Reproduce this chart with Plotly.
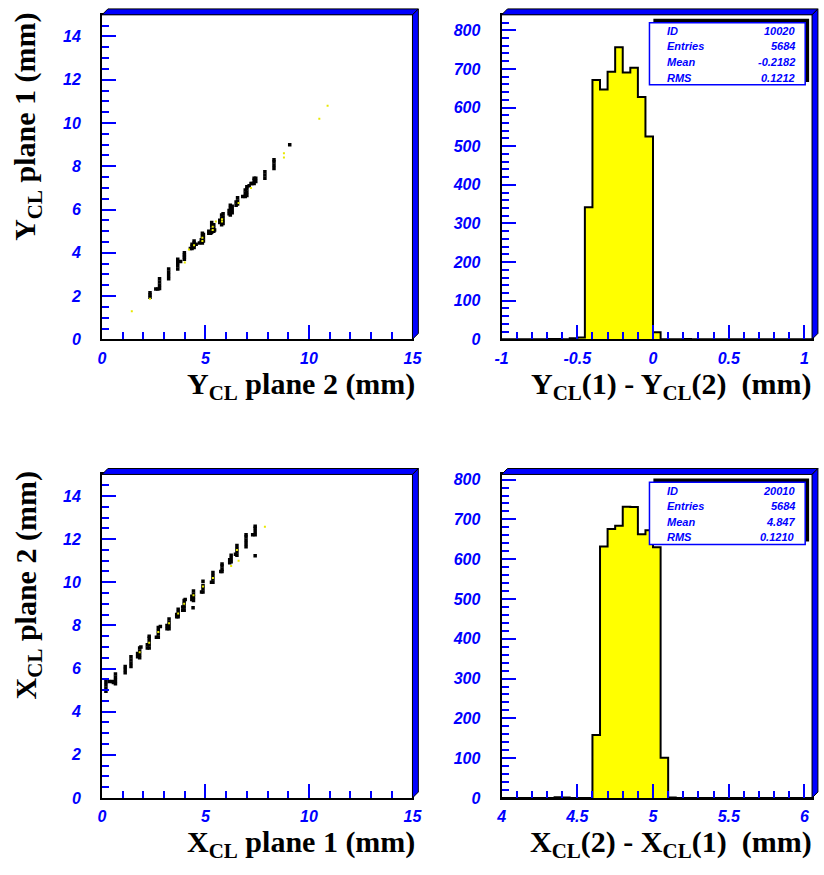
import plotly.graph_objects as go

W, H = 824, 875

# ---------------- data ----------------
# Y cluster position, plane 2 (x) vs plane 1 (y), mm
ycl_p2 = [2.32, 2.32, 2.32,
          2.6, 2.7, 2.78, 2.78, 2.78, 2.78,
          3.22, 3.22, 3.22, 3.22,
          3.66, 3.66, 3.66, 3.66, 3.8,
          3.98, 3.98, 3.98, 3.98,
          4.27, 4.35, 4.35, 4.35, 4.45, 4.45, 4.45, 4.45, 4.55,
          4.71, 4.8, 4.8, 4.85, 4.85, 4.85, 4.85, 4.9, 4.9, 4.9,
          5.16, 5.16, 5.25, 5.3, 5.3, 5.3, 5.3, 5.4, 5.4, 5.4, 5.44,
          5.69, 5.69, 5.78, 5.78, 5.78, 5.78, 5.85, 5.85, 5.85, 5.85,
          6.14, 6.14, 6.2, 6.2, 6.2, 6.2, 6.29, 6.29, 6.29,
          6.48, 6.48, 6.55, 6.55, 6.55,
          6.8, 6.92, 6.92, 6.92, 7.0, 7.0, 7.0, 7.0,
          7.11, 7.2, 7.25, 7.35, 7.35, 7.35, 7.43, 7.43,
          7.87, 7.87, 7.87,
          8.31, 8.31, 8.31, 8.31,
          9.07]
ycl_p1 = [1.95, 2.05, 2.15,
          2.33, 2.33, 2.35, 2.5, 2.65, 2.8,
          2.8, 2.95, 3.1, 3.25,
          3.25, 3.4, 3.55, 3.7, 3.6,
          3.7, 3.8, 3.9, 4.0,
          4.2, 4.2, 4.3, 4.4, 4.25, 4.35, 4.45, 4.55, 4.4,
          4.45, 4.5, 4.6, 4.45, 4.6, 4.75, 4.9, 4.55, 4.7, 4.85,
          4.9, 5.0, 4.9, 4.95, 5.1, 5.25, 5.4, 5.0, 5.15, 5.3, 5.05,
          5.4, 5.5, 5.3, 5.45, 5.6, 5.75, 5.35, 5.5, 5.65, 5.8,
          5.8, 5.95, 5.75, 5.9, 6.05, 6.2, 5.85, 6.0, 6.15,
          6.2, 6.35, 6.25, 6.4, 6.55,
          6.6, 6.6, 6.75, 6.9, 6.65, 6.8, 6.95, 7.05,
          7.1, 7.2, 7.2, 7.2, 7.35, 7.45, 7.3, 7.45,
          7.45, 7.6, 7.75,
          7.9, 8.05, 8.2, 8.3,
          9.0]
# sparse low-weight entries (yellow)
ycl_p2_low = [1.44, 2.32, 4.2, 4.45, 4.85, 4.85, 5.35, 5.35, 5.5, 5.8, 5.8, 4.0, 6.6, 7.2, 8.79, 8.79, 10.5, 10.9]
ycl_p1_low = [1.3, 1.88, 4.15, 4.35, 4.7, 4.55, 5.2, 5.05, 5.45, 5.55, 5.45, 3.55, 6.3, 7.0, 8.4, 8.6, 10.2, 10.8]

# X cluster position, plane 1 (x) vs plane 2 (y), mm
xcl_p1 = [0.19, 0.19, 0.19, 0.19, 0.35, 0.5,
          0.55, 0.65, 0.65, 0.65, 0.65,
          1.12, 1.12, 1.12,
          1.4, 1.4, 1.4, 1.4,
          1.72, 1.72, 1.82, 1.82, 1.82, 1.82, 1.88,
          2.19, 2.19, 2.28, 2.28, 2.28, 2.28, 2.28,
          2.63, 2.72, 2.72, 2.72, 2.72, 2.82,
          3.14, 3.14, 3.24, 3.24, 3.24, 3.24,
          3.61, 3.61, 3.68, 3.68, 3.68, 3.68,
          3.9, 3.9, 3.97, 3.97, 3.97, 3.97, 4.02, 4.4,
          4.34, 4.34, 4.42, 4.42, 4.42, 4.42,
          4.81, 4.88, 4.88, 4.88, 4.88,
          5.29, 5.36, 5.36, 5.36, 5.36,
          5.74, 5.8, 5.8, 5.8, 5.8,
          6.17, 6.17, 6.24, 6.24, 6.24,
          6.45, 6.52, 6.52, 6.52, 6.52,
          6.96, 6.96, 6.96, 6.96, 6.96,
          7.28, 7.4, 7.4, 7.4, 7.4, 7.4]
xcl_p2 = [4.95, 5.1, 5.25, 5.4, 5.4, 5.4,
          5.35, 5.3, 5.45, 5.6, 5.75,
          5.8, 5.95, 6.1,
          6.1, 6.25, 6.4, 6.55,
          6.55, 6.7, 6.5, 6.65, 6.8, 6.95, 7.0,
          6.95, 7.1, 6.95, 7.1, 7.25, 7.4, 7.5,
          7.45, 7.45, 7.6, 7.75, 7.9, 7.95,
          7.85, 8.0, 7.85, 8.0, 8.15, 8.3,
          8.4, 8.5, 8.4, 8.5, 8.6, 8.75,
          8.7, 8.85, 8.7, 8.85, 9.0, 9.15, 9.2, 8.82,
          9.2, 9.35, 9.15, 9.3, 9.45, 9.6,
          9.55, 9.55, 9.7, 9.85, 10.05,
          10.0, 10.0, 10.15, 10.3, 10.45,
          10.5, 10.5, 10.6, 10.75, 10.85,
          10.9, 11.05, 10.95, 11.1, 11.25,
          11.3, 11.25, 11.4, 11.55, 11.7,
          11.65, 11.8, 11.95, 12.1, 12.2,
          12.2, 12.2, 12.35, 12.5, 12.6, 11.23]
xcl_p1_low = [1.82, 2.28, 2.72, 3.24, 3.68, 3.97, 4.42, 4.88, 5.36, 6.24, 6.52, 6.6, 7.87]
xcl_p2_low = [6.75, 7.2, 7.7, 8.1, 8.55, 9.0, 9.4, 9.8, 10.2, 10.75, 11.5, 11.0, 12.58]

# Y residual histogram: Y_CL(1) - Y_CL(2), 41 bins of 0.05 mm from -1.0
dy_lo, dy_width = -1.0, 0.05
dy_counts = [0, 0, 0, 0, 0, 0, 1, 1, 0, 3, 5, 342, 671, 647, 693, 756, 691, 703, 627, 525,
             18, 0, 0, 0, 1, 0, 0, 0, 0, 0, 0, 0, 0, 0, 0, 0, 0, 0, 0, 0, 0]
dy_stats = [("ID", "10020"), ("Entries", "5684"), ("Mean", "-0.2182"), ("RMS", "0.1212")]

# X residual histogram: X_CL(2) - X_CL(1), 41 bins of 0.05 mm from 4.0
dx_lo, dx_width = 4.0, 0.05
dx_counts = [0, 0, 0, 0, 0, 0, 0, 2, 1, 0, 0, 0, 158, 632, 676, 684, 732, 731, 663, 673,
             630, 101, 1, 0, 0, 0, 0, 0, 0, 0, 0, 0, 0, 0, 0, 0, 0, 0, 0, 0, 0]
dx_stats = [("ID", "20010"), ("Entries", "5684"), ("Mean", "4.847"), ("RMS", "0.1210")]

# tick labels
pos_ticks = [0, 2, 4, 6, 8, 10, 12, 14]
pos_xticks = [0, 5, 10, 15]
count_ticks = [0, 100, 200, 300, 400, 500, 600, 700, 800]
dy_ticks = [-1, -0.5, 0, 0.5, 1]
dy_ticklabels = ["-1", "-0.5", "0", "0.5", "1"]
dx_ticks = [4, 4.5, 5, 5.5, 6]
dx_ticklabels = ["4", "4.5", "5", "5.5", "6"]

# ---------------- layout helpers ----------------
def px(x):
    return x / W

def py(y):
    return 1 - y / H

# panel frames in pixels: (left, top, right, bottom)
PANELS = {
    "tl": (97, 12, 414, 341),
    "tr": (505, 12, 822, 341),
    "bl": (97, 478, 414, 806),
    "br": (505, 478, 822, 806),
}

BLUE = "#0000ff"
tick_font = dict(family="Liberation Sans", size=16, color=BLUE)
title_font = dict(family="Liberation Serif", size=30, color="black")
stat_font = dict(family="Liberation Sans", size=11, color=BLUE)


def bi(s):
    return f"<b><i>{s}</i></b>"


def step_outline(lo, width, counts):
    xs = [lo]
    ys = [0]
    for i, c in enumerate(counts):
        xs.append(lo + i * width)
        ys.append(c)
    xs.append(lo + len(counts) * width)
    ys.append(0)
    return xs, ys


fig = go.Figure()

# scatter panels
fig.add_trace(go.Scatter(x=ycl_p2, y=ycl_p1, mode="markers", xaxis="x", yaxis="y",
                         marker=dict(symbol="square", size=3.5, color="black", line=dict(width=0))))
fig.add_trace(go.Scatter(x=ycl_p2_low, y=ycl_p1_low, mode="markers", xaxis="x", yaxis="y",
                         marker=dict(symbol="square", size=2, color="#e8e800", line=dict(width=0))))
fig.add_trace(go.Scatter(x=xcl_p1, y=xcl_p2, mode="markers", xaxis="x3", yaxis="y3",
                         marker=dict(symbol="square", size=3.5, color="black", line=dict(width=0))))
fig.add_trace(go.Scatter(x=xcl_p1_low, y=xcl_p2_low, mode="markers", xaxis="x3", yaxis="y3",
                         marker=dict(symbol="square", size=2, color="#e8e800", line=dict(width=0))))

# histograms drawn as filled step outlines
hx, hy = step_outline(dy_lo, dy_width, dy_counts)
fig.add_trace(go.Scatter(x=hx, y=hy, mode="lines", line=dict(shape="hv", color="black", width=2),
                         fill="tozeroy", fillcolor="#ffff00", xaxis="x2", yaxis="y2"))
hx, hy = step_outline(dx_lo, dx_width, dx_counts)
fig.add_trace(go.Scatter(x=hx, y=hy, mode="lines", line=dict(shape="hv", color="black", width=2),
                         fill="tozeroy", fillcolor="#ffff00", xaxis="x4", yaxis="y4"))


def axis(domain, rng, vals, labels, minor, standoff, **kw):
    d = dict(domain=domain, range=rng, tickmode="array", tickvals=vals,
             ticktext=[bi(t) for t in labels],
             showline=True, linecolor="black", linewidth=2,
             mirror=True, ticks="inside", ticklen=14, tickwidth=1.5, tickcolor=BLUE,
             tickfont=tick_font, showgrid=False, zeroline=False, ticklabelstandoff=standoff,
             minor=dict(dtick=minor, tick0=rng[0], ticks="inside", ticklen=7, tickwidth=1.5,
                        tickcolor=BLUE, showgrid=False),
             fixedrange=True)
    d.update(kw)
    return d


def xdom(k):
    l, t, r, b = PANELS[k]
    return [px(l), px(r)]


def ydom(k):
    l, t, r, b = PANELS[k]
    return [py(b), py(t)]


layout = dict(
    width=W, height=H, margin=dict(l=0, r=0, t=0, b=0), showlegend=False,
    paper_bgcolor="white", plot_bgcolor="white",
    xaxis=axis(xdom("tl"), [0, 15], pos_xticks, [str(v) for v in pos_xticks], 1, 3, anchor="y"),
    yaxis=axis(ydom("tl"), [0, 15], pos_ticks, [str(v) for v in pos_ticks], 0.5, 16, anchor="x"),
    xaxis2=axis(xdom("tr"), [-1, 1.05], dy_ticks, dy_ticklabels, 0.1, 3, anchor="y2"),
    yaxis2=axis(ydom("tr"), [0, 840], count_ticks, [str(v) for v in count_ticks], 20, 16, anchor="x2"),
    xaxis3=axis(xdom("bl"), [0, 15], pos_xticks, [str(v) for v in pos_xticks], 1, 3, anchor="y3"),
    yaxis3=axis(ydom("bl"), [0, 15], pos_ticks, [str(v) for v in pos_ticks], 0.5, 16, anchor="x3"),
    xaxis4=axis(xdom("br"), [4, 6.05], dx_ticks, dx_ticklabels, 0.1, 3, anchor="y4"),
    yaxis4=axis(ydom("br"), [0, 813], count_ticks, [str(v) for v in count_ticks], 20, 16, anchor="x4"),
)
fig.update_layout(**layout)

shapes = []
annotations = []

# 3D-style blue bevel on top and right of every frame
for k, (l, t, r, b) in PANELS.items():
    d = 6
    top = f"M {px(l)} {py(t)} L {px(l + d)} {py(t - d)} L {px(r + d)} {py(t - d)} L {px(r)} {py(t)} Z"
    right = f"M {px(r)} {py(t)} L {px(r + d)} {py(t - d)} L {px(r + d)} {py(b - d)} L {px(r)} {py(b)} Z"
    for p in (top, right):
        shapes.append(dict(type="path", path=p, xref="paper", yref="paper",
                           fillcolor=BLUE, line=dict(color="black", width=1), layer="above"))

# statistics boxes
for k, stats in (("tr", dy_stats), ("br", dx_stats)):
    l, t, r, b = PANELS[k]
    bx0, by0, bx1, by1 = 656, t + 8, 815, t + 71
    shapes.append(dict(type="rect", xref="paper", yref="paper",
                       x0=px(bx0 + 4), x1=px(bx1 + 4), y0=py(by1 - 3), y1=py(by0 - 4),
                       fillcolor="black", line=dict(width=0), layer="above"))
    shapes.append(dict(type="rect", xref="paper", yref="paper",
                       x0=px(bx0), x1=px(bx1), y0=py(by1), y1=py(by0),
                       fillcolor="white", line=dict(color=BLUE, width=1.5), layer="above"))
    for i, (name, val) in enumerate(stats):
        yy = by0 + 8.3 + i * 15.8
        annotations.append(dict(text=bi(name), x=px(672), y=py(yy), xref="paper", yref="paper",
                                xanchor="left", yanchor="middle", showarrow=False, font=stat_font))
        annotations.append(dict(text=bi(val), x=px(807), y=py(yy), xref="paper", yref="paper",
                                xanchor="right", yanchor="middle", showarrow=False, font=stat_font))

# axis titles
titles = [
    ("Y<sub>CL</sub> plane 2 (mm)", 300, 388, 0),
    ("Y<sub>CL</sub>(1) - Y<sub>CL</sub>(2)  (mm)", 678, 388, 0),
    ("X<sub>CL</sub> plane 1 (mm)", 300, 853, 0),
    ("X<sub>CL</sub>(2) - X<sub>CL</sub>(1)  (mm)", 678, 853, 0),
    ("Y<sub>CL</sub> plane 1 (mm)", 21, 126, -90),
    ("X<sub>CL</sub> plane 2 (mm)", 21, 591, -90),
]
for text, x, y, ang in titles:
    annotations.append(dict(text=f"<b>{text}</b>", x=px(x), y=py(y), xref="paper", yref="paper",
                            xanchor="center", yanchor="middle", showarrow=False,
                            textangle=ang, font=title_font))

fig.update_layout(shapes=shapes, annotations=annotations)
fig.write_html("out.html")
